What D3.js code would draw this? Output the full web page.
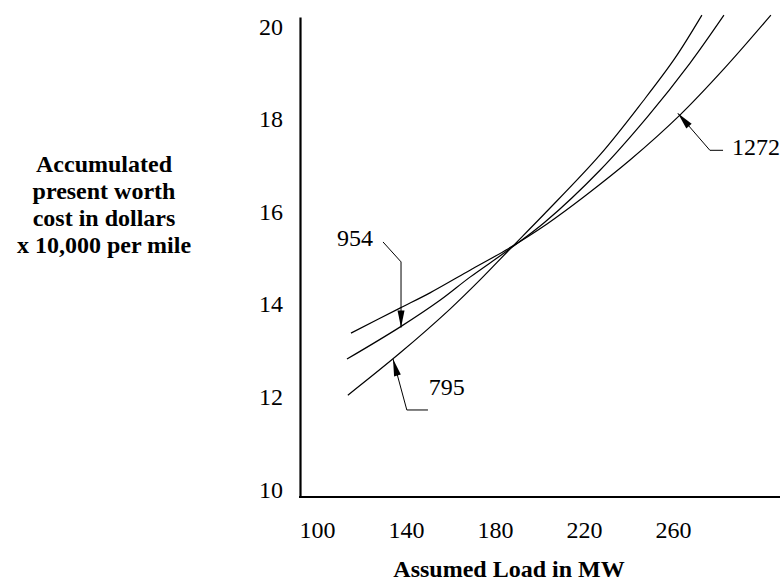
<!DOCTYPE html>
<html>
<head>
<meta charset="utf-8">
<script src="https://cdn.jsdelivr.net/npm/d3@7"></script>
<style>
  html, body { margin: 0; padding: 0; background: #fff; }
  svg { display: block; }
  text { font-family: "Liberation Serif", "Times New Roman", serif; fill: #000; }
</style>
</head>
<body>
<svg id="chart" width="780" height="581"></svg>
<script>
// ---- data ----
const xTicks = [100, 140, 180, 220, 260];
const yTicks = [10, 12, 14, 16, 18, 20];

const load795  = [113.9, 137.3, 159.8, 173.3, 185.8, 202.5, 227.2, 246.5, 260.9, 273.0];
const cost795  = [12.20, 13.11, 14.06, 14.69, 15.31, 16.13, 17.39, 18.55, 19.48, 20.41];

const load954  = [113.5, 137.3, 155.3, 168.8, 185.8, 202.5, 227.2, 248.8, 267.6, 282.9];
const cost954  = [12.98, 13.67, 14.25, 14.75, 15.33, 15.94, 17.06, 18.23, 19.37, 20.41];

const load1272 = [115.3, 137.3, 150.8, 168.8, 185.8, 203.4, 220.9, 240.7, 263.1, 283.3, 304.0];
const cost1272 = [13.54, 14.08, 14.41, 14.90, 15.36, 15.90, 16.52, 17.28, 18.25, 19.27, 20.41];

const seriesNames = ["795", "954", "1272"];

// annotation leaders (data coordinates): label position, leader path ending at arrow tip
const annoLabels = ["954", "795", "1272"];
const annoLabelX = [117.1, 150.3, 286.5];
const annoLabelY = [15.42, 12.20, 17.39];
const annoPathX  = [[129.7, 137.8, 137.8], [149.9, 140.4, 134.2], [282.5, 276.6, 262.2]];
const annoPathY  = [[15.51, 15.08, 13.66], [11.88, 11.88, 12.98], [17.49, 17.49, 18.29]];
const annoAnchor = ["middle", "start", "start"];

const xTitle = "Assumed Load in MW";
const yTitle = ["Accumulated", "present worth", "cost in dollars", "x 10,000 per mile"];

// ---- drawing ----
const FONT = '"Liberation Serif", "Times New Roman", serif';
const svg = d3.select("#chart");
const x = d3.scaleLinear().domain([92.4, 308.1]).range([300, 780]);
const y = d3.scaleLinear().domain([10, 20.37]).range([497, 17]);

const series = [
  load795.map((d, i) => [d, cost795[i]]),
  load954.map((d, i) => [d, cost954[i]]),
  load1272.map((d, i) => [d, cost1272[i]])
];

const line = d3.line().x(d => x(d[0])).y(d => y(d[1])).curve(d3.curveCatmullRom.alpha(0.5));

svg.append("g").selectAll("path").data(series).join("path")
  .attr("d", line)
  .attr("fill", "none")
  .attr("stroke", "#000")
  .attr("stroke-width", 1.2);

// axes
const xAxis = svg.append("g").attr("transform", "translate(0,497)")
  .call(d3.axisBottom(x).tickValues(xTicks).tickSize(0).tickSizeOuter(0).tickFormat(d3.format("d")));
xAxis.select(".domain").attr("stroke-width", 2.2).attr("d", "M299,0H780");
xAxis.selectAll("text").attr("y", 41).attr("dy", 0)
  .style("font-family", FONT).style("font-size", "24px");

const yAxis = svg.append("g").attr("transform", "translate(300,0)")
  .call(d3.axisLeft(y).tickValues(yTicks).tickSize(0).tickSizeOuter(0).tickFormat(d3.format("d")));
yAxis.select(".domain").attr("stroke-width", 2.2);
yAxis.selectAll("text").attr("x", -17).attr("dy", 0)
  .style("font-family", FONT).style("font-size", "24px");

// annotations
const anno = svg.append("g");
annoLabels.forEach((lab, i) => {
  const pts = annoPathX[i].map((d, j) => [x(d), y(annoPathY[i][j])]);
  anno.append("path")
    .attr("d", d3.line()(pts))
    .attr("fill", "none").attr("stroke", "#000").attr("stroke-width", 1);
  // arrowhead at last point
  const [tx, ty] = pts[pts.length - 1];
  const [px, py] = pts[pts.length - 2];
  const ang = Math.atan2(ty - py, tx - px);
  const L = 17, W = 3.5;
  const bx = tx - L * Math.cos(ang), by = ty - L * Math.sin(ang);
  const nx = -Math.sin(ang) * W, ny = Math.cos(ang) * W;
  anno.append("path")
    .attr("d", `M${tx},${ty}L${bx + nx},${by + ny}L${bx - nx},${by - ny}Z`)
    .attr("fill", "#000");
  anno.append("text")
    .attr("x", x(annoLabelX[i])).attr("y", y(annoLabelY[i]))
    .attr("text-anchor", annoAnchor[i])
    .style("font-size", "24px")
    .text(lab);
});

// titles
svg.append("text")
  .attr("x", 509).attr("y", 577)
  .attr("text-anchor", "middle")
  .style("font-size", "24px").style("font-weight", "bold")
  .text(xTitle);

svg.append("g").selectAll("text").data(yTitle).join("text")
  .attr("x", 104).attr("y", (d, i) => 172 + i * 27)
  .attr("text-anchor", "middle")
  .style("font-size", "24px").style("font-weight", "bold")
  .text(d => d);
</script>
</body>
</html>
